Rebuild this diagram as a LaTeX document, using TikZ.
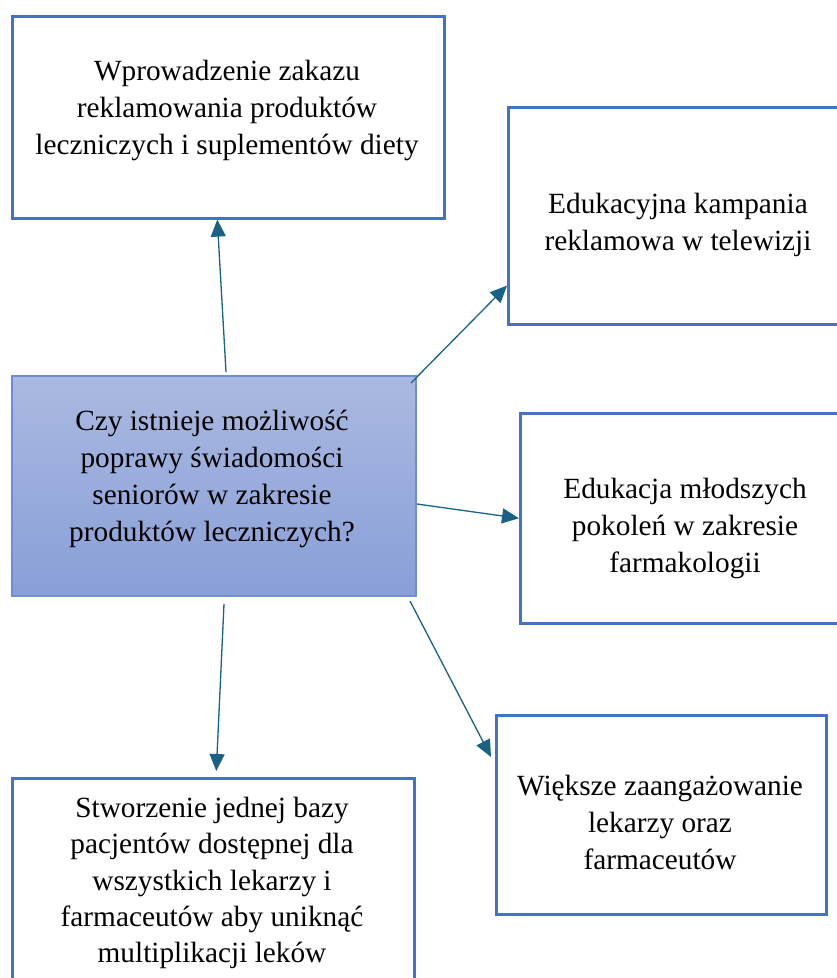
\documentclass[tikz,border=0pt]{standalone}
\usepackage{fontspec}
\setmainfont{Liberation Serif}
\usetikzlibrary{arrows.meta,calc}
\definecolor{boxblue}{HTML}{4472C4}
\definecolor{cborder}{HTML}{6D8ED2}
\definecolor{ctop}{HTML}{AAB9E1}
\definecolor{cbot}{HTML}{889FD7}
\definecolor{arrowc}{HTML}{1A6186}
\tikzset{
  box/.style={draw=boxblue, line width=2.6pt, rectangle, anchor=north west, inner sep=0pt, fill=white},
  cbox/.style={draw=cborder, line width=2pt, rectangle, anchor=north west, inner sep=0pt, top color=ctop, bottom color=cbot},
  txt/.style={align=center, inner sep=0pt, font=\fontsize{29.3}{37}\selectfont, text=black},
  conn/.style={draw=arrowc, line width=1.3pt, -{Triangle[length=17pt,width=15pt]}}
}
\begin{document}
\begin{tikzpicture}[x=1pt,y=-1pt]
\useasboundingbox (0,0) rectangle (837,978);
% boxes
\node[box, minimum width=432pt, minimum height=202pt] (t) at (11,15) {};
\node[box, minimum width=345pt, minimum height=217pt] (r1) at (507,106) {};
\node[cbox, minimum width=404pt, minimum height=220pt] (c) at (11,375) {};
\node[box, minimum width=333pt, minimum height=210pt] (r2) at (519,412) {};
\node[box, minimum width=330pt, minimum height=199pt] (r3) at (495,714) {};
\node[box, minimum width=402pt, minimum height=230pt] (b) at (11,777) {};
% texts
\node[txt] (tt) at (227,110) {Wprowadzenie zakazu\\reklamowania produktów\\leczniczych i suplementów diety};
\node[txt] (r1t) at (678,225) {Edukacyjna kampania\\reklamowa w telewizji};
\node[txt] (ct) at (212,479) {Czy istnieje możliwość\\poprawy świadomości\\seniorów w zakresie\\produktów leczniczych?};
\node[txt] (r2t) at (685,528) {Edukacja młodszych\\pokoleń w zakresie\\farmakologii};
\node[txt] (r3t) at (660,822) {Większe zaangażowanie\\lekarzy oraz\\farmaceutów};
\node[txt, font=\fontsize{29.3}{36.3}\selectfont] (bt) at (212,883) {Stworzenie jednej bazy\\pacjentów dostępnej dla\\wszystkich lekarzy i\\farmaceutów aby uniknąć\\multiplikacji leków};
% connectors
\draw[conn] ([xshift=12pt,yshift=3pt]c.north) -- ([xshift=-11pt]t.south);
\draw[conn] ([xshift=-6pt,yshift=-8pt]c.north east) -- ([yshift=40pt]r1.south west);
\draw[conn] ([yshift=-18pt]c.east) -- (r2.west);
\draw[conn] ([xshift=-7pt,yshift=-4pt]c.south east) -- ([xshift=-4pt,yshift=-43pt]r3.north west);
\draw[conn] ([xshift=10pt,yshift=-7pt]c.south) -- ([xshift=3pt,yshift=6pt]b.north);
\end{tikzpicture}
\end{document}
